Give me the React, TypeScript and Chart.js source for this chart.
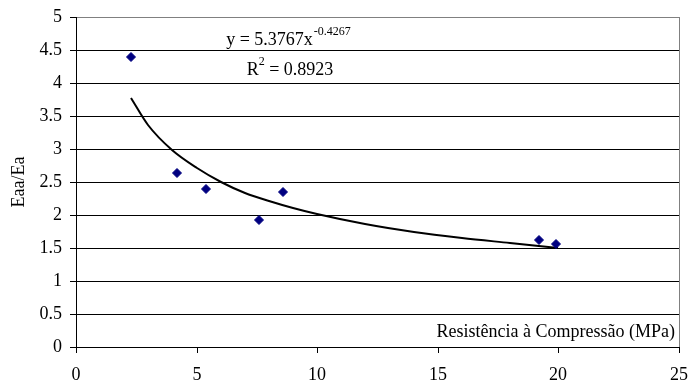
import React, { useEffect, useRef } from "react";
import { Chart, registerables } from "chart.js";

Chart.register(...registerables);

// Observed points
const strengthValues = [2.3, 4.2, 5.4, 7.6, 8.6, 19.2, 19.9];
const ratioValues = [4.4, 2.64, 2.39, 1.92, 2.35, 1.62, 1.565];

// Trendline
const trendX = [2.3, 3, 4, 5, 6, 7, 8, 9, 10, 12, 14, 16, 18, 20];
const trendY = [3.77, 3.36, 2.98, 2.71, 2.5, 2.34, 2.21, 2.1, 2.01, 1.86, 1.74, 1.65, 1.57, 1.5];

const xTickLabels = ["0", "5", "10", "15", "20", "25"];
const yTickLabels = ["0", "0.5", "1", "1.5", "2", "2.5", "3", "3.5", "4", "4.5", "5"];

const yTitle = "Eaa/Ea";
const xTitle = "Resistência à Compressão (MPa)";
const eqMain = "y = 5.3767x";
const eqExp = "-0.4267";
const r2Main = "R";
const r2Sup = "2";
const r2Rest = " = 0.8923";

const FONT = "'Liberation Serif', 'Times New Roman', serif";

export default function App() {
  const ref = useRef<HTMLCanvasElement | null>(null);

  useEffect(() => {
    if (!ref.current) return;
    const textPlugin = {
      id: "texts",
      afterDraw(chart: any) {
        const { ctx, chartArea } = chart;
        ctx.save();
        // right border of plot area
        ctx.strokeStyle = "#808080";
        ctx.lineWidth = 1;
        ctx.beginPath();
        ctx.moveTo(Math.round(chartArea.right) + 0.5, chartArea.top);
        ctx.lineTo(Math.round(chartArea.right) + 0.5, chartArea.bottom);
        ctx.stroke();

        ctx.fillStyle = "#000";
        ctx.textBaseline = "alphabetic";
        // equation
        ctx.font = `18px ${FONT}`;
        const w1 = ctx.measureText(eqMain).width;
        ctx.font = `12px ${FONT}`;
        const w2 = ctx.measureText(eqExp).width;
        const cx = 288;
        const x1 = cx - (w1 + w2) / 2;
        ctx.textAlign = "left";
        ctx.font = `18px ${FONT}`;
        ctx.fillText(eqMain, x1, 45);
        ctx.font = `12px ${FONT}`;
        ctx.fillText(eqExp, x1 + w1 + 1, 35);

        ctx.font = `18px ${FONT}`;
        const wr = ctx.measureText(r2Main).width;
        const wrest = ctx.measureText(r2Rest).width;
        ctx.font = `12px ${FONT}`;
        const ws = ctx.measureText(r2Sup).width;
        const x2 = 290 - (wr + ws + wrest) / 2;
        ctx.font = `18px ${FONT}`;
        ctx.fillText(r2Main, x2, 75);
        ctx.font = `12px ${FONT}`;
        ctx.fillText(r2Sup, x2 + wr, 65);
        ctx.font = `18px ${FONT}`;
        ctx.fillText(r2Rest, x2 + wr + ws, 75);

        // x axis title inside plot
        ctx.textAlign = "right";
        ctx.fillText(xTitle, 675, 337);
        ctx.restore();
      },
    };

    const chart = new Chart(ref.current, {
      type: "scatter",
      data: {
        datasets: [
          {
            label: "Dados",
            data: strengthValues.map((x, i) => ({ x, y: ratioValues[i] })),
            pointStyle: "rectRot",
            pointRadius: 4.5,
            pointHoverRadius: 4.5,
            backgroundColor: "#000080",
            borderColor: "#000080",
            borderWidth: 1,
            showLine: false,
          },
          {
            type: "line",
            label: "Tendência",
            data: trendX.map((x, i) => ({ x, y: trendY[i] })),
            borderColor: "#000",
            borderWidth: 2,
            pointRadius: 0,
            fill: false,
            cubicInterpolationMode: "monotone",
          } as any,
        ],
      },
      options: {
        responsive: false,
        animation: false,
        devicePixelRatio: 1,
        layout: { padding: { left: 0, right: 10, top: 17, bottom: 0 } },
        plugins: {
          legend: { display: false },
          tooltip: { enabled: false },
        },
        scales: {
          x: {
            type: "linear",
            min: 0,
            max: 25,
            alignToPixels: true,
            afterFit: (s: any) => {
              s.height = 36;
              s.paddingLeft = 0;
              s.paddingRight = 0;
            },
            ticks: {
              stepSize: 5,
              padding: 11,
              color: "#000",
              font: { family: FONT, size: 18 },
              maxRotation: 0,
              callback: (_v: any, i: number) => xTickLabels[i],
            },
            grid: {
              drawOnChartArea: false,
              drawTicks: true,
              tickLength: 6,
              color: "#000",
              tickColor: "#000",
            },
            border: { display: true, color: "#000", width: 1 },
          },
          y: {
            type: "linear",
            min: 0,
            max: 5,
            alignToPixels: true,
            afterFit: (s: any) => {
              s.width = 76;
              s.paddingTop = 0;
              s.paddingBottom = 0;
            },
            ticks: {
              stepSize: 0.5,
              padding: 8,
              color: "#000",
              font: { family: FONT, size: 18 },
              callback: (_v: any, i: number) => yTickLabels[i],
            },
            grid: {
              drawTicks: true,
              tickLength: 6,
              color: (c: any) => (c.tick && c.tick.value === 5 ? "#808080" : "#000"),
              tickColor: "#000",
            },
            border: { display: true, color: "#000", width: 1 },
            title: {
              display: true,
              text: yTitle,
              color: "#000",
              font: { family: FONT, size: 18 },
              padding: { top: 8, bottom: 0 },
            },
          },
        },
      },
      plugins: [textPlugin],
    });
    return () => chart.destroy();
  }, []);

  return (
    <div style={{ position: "absolute", left: 0, top: 0, width: 689, height: 383, background: "#fff" }}>
      <canvas ref={ref} width={689} height={383} style={{ display: "block" }} />
    </div>
  );
}
